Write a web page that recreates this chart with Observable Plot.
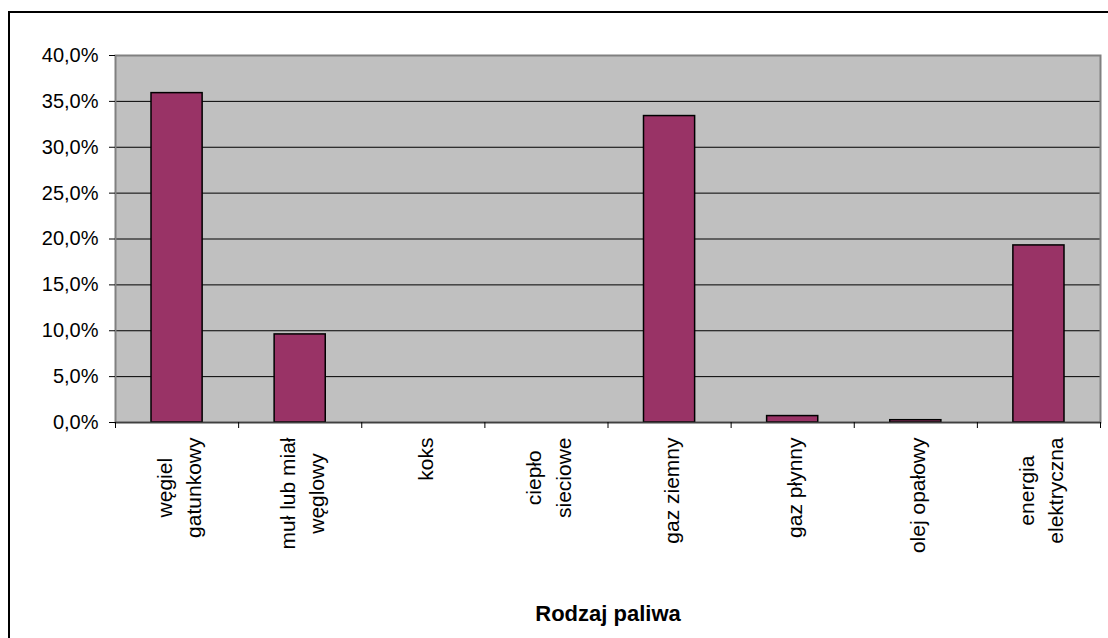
<!DOCTYPE html>
<html>
<head>
<meta charset="utf-8">
<script src="https://cdn.jsdelivr.net/npm/d3@7"></script>
<script src="https://cdn.jsdelivr.net/npm/@observablehq/plot@0.6"></script>
<style>
  html, body { margin: 0; padding: 0; background: #fff; overflow: hidden; }
  #wrap { position: relative; width: 1108px; height: 638px; }
  #border { position: absolute; left: 8px; top: 11px; width: 1200px; height: 700px;
            border-left: 2px solid #000; border-top: 2px solid #000; box-sizing: border-box; pointer-events: none; }
  svg { font-family: "Liberation Sans", Arial, sans-serif; }
</style>
</head>
<body>
<div id="wrap"><div id="border"></div></div>
<script>
const categories = ["węgiel\ngatunkowy", "muł lub miał\nwęglowy", "koks", "ciepło\nsieciowe", "gaz ziemny", "gaz płynny", "olej opałowy", "energia\nelektryczna"];
const values = [0.359, 0.096, 0, 0, 0.334, 0.007, 0.0025, 0.193];
const yTicks = [0, 0.05, 0.10, 0.15, 0.20, 0.25, 0.30, 0.35, 0.40];
const xTitle = "Rodzaj paliwa";

const data = categories.map((c, i) => ({i, label: c, v: values[i]}));

const labelFont = 21;
const canvas = document.createElement("canvas");
const ctx = canvas.getContext("2d");
ctx.font = `${labelFont}px "Liberation Sans", Arial, sans-serif`;
const blockLen = c => Math.max(...c.split("\n").map(l => ctx.measureText(l).width));

const fmt = d => (d * 100).toFixed(1).replace(".", ",") + "%";

const chart = Plot.plot({
  width: 1108,
  height: 638,
  marginLeft: 115,
  marginRight: 8,
  marginTop: 55,
  marginBottom: 216,
  style: {fontFamily: '"Liberation Sans", Arial, sans-serif', background: "transparent", overflow: "visible"},
  x: {type: "linear", domain: [0, categories.length], axis: null},
  y: {domain: [0, 0.4], axis: null},
  marks: [
    Plot.frame({fill: "#C0C0C0"}),
    Plot.ruleY(yTicks.slice(1), {stroke: "#000", strokeWidth: 1}),
    Plot.frame({stroke: "#808080", strokeWidth: 2}),
    Plot.rectY(data.filter(d => d.v > 0), {
      x1: "i", x2: d => d.i + 1, y1: 0, y2: "v",
      fill: "#993366", stroke: "#000", strokeWidth: 1.5,
      insetLeft: 36, insetRight: 36
    }),
    Plot.ruleY([0], {stroke: "#404040", strokeWidth: 1.5}),
    Plot.axisY(yTicks, {
      tickFormat: fmt, tickSize: 6, tickPadding: 11, fontSize: 20,
      stroke: "#000", fill: "#000", strokeOpacity: 1, label: null
    }),
    Plot.axisX(d3.range(categories.length + 1), {
      tickFormat: () => "", tickSize: 6, stroke: "#000", strokeOpacity: 1, label: null
    }),
    ...data.map(d => Plot.text([d], {
      x: d.i + 0.5, y: 0, text: "label", rotate: -90,
      textAnchor: "middle", lineHeight: 1.4, fontSize: labelFont, fill: "#000",
      dy: 15 + blockLen(d.label) / 2
    })),
    Plot.text([xTitle], {
      frameAnchor: "bottom", text: d => d, dy: 198,
      fontSize: 22, fontWeight: "bold", fill: "#000"
    })
  ]
});
document.getElementById("wrap").prepend(chart);
</script>
</body>
</html>
